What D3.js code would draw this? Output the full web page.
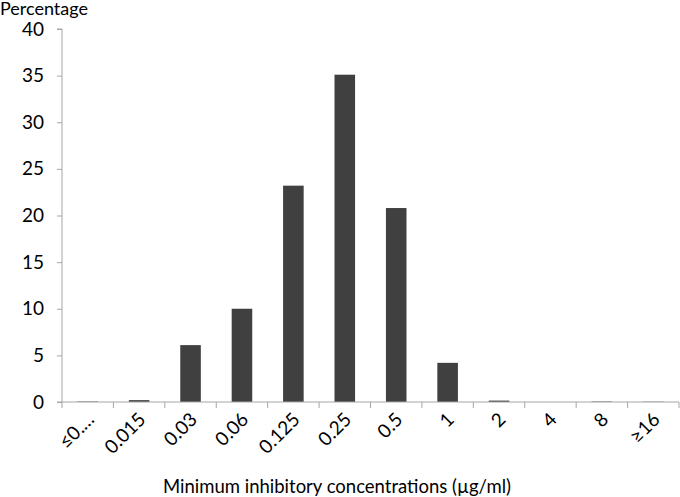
<!DOCTYPE html>
<html lang="en">
<head>
<meta charset="utf-8" />
<title>MIC distribution</title>
<script src="https://cdn.jsdelivr.net/npm/d3@7"></script>
<style>
  body { margin: 0; background: #fff; }
  svg text { font-family: Lato, "Open Sans", sans-serif; fill: #000; }
</style>
</head>
<body>
<div id="chart"></div>
<script>
// categories (MIC, ug/ml) and percentage of isolates
const categories = ["\u22640.\u2026", "0.015", "0.03", "0.06", "0.125", "0.25", "0.5", "1", "2", "4", "8", "\u226516"];
const percentages = [0.05, 0.2, 6.1, 10.0, 23.2, 35.1, 20.8, 4.2, 0.15, 0, 0.05, 0.03];
const yTicks = [0, 5, 10, 15, 20, 25, 30, 35, 40];

const width = 680, height = 497;
const margin = { top: 29, right: 1, bottom: 95, left: 62 };

const svg = d3.select("#chart").append("svg")
  .attr("width", width)
  .attr("height", height);

const x = d3.scaleBand()
  .domain(categories)
  .range([margin.left, width - margin.right])
  .paddingInner(0.6)
  .paddingOuter(0.3);

const y = d3.scaleLinear()
  .domain([0, 40])
  .range([height - margin.bottom, margin.top]);

const axisColor = "#a6a6a6";

// bars
svg.append("g")
  .selectAll("rect")
  .data(percentages)
  .join("rect")
  .attr("x", (d, i) => x(categories[i]))
  .attr("y", d => y(d))
  .attr("width", x.bandwidth())
  .attr("height", d => y(0) - y(d))
  .attr("fill", "#404040");

// y axis
const yAxis = svg.append("g")
  .attr("transform", `translate(${margin.left},0)`)
  .call(d3.axisLeft(y).tickValues(yTicks).tickSize(5).tickPadding(13));
yAxis.selectAll("line, path").attr("stroke", axisColor);
yAxis.select(".domain").attr("d", `M-5,${y(40)}H0V${y(0)}`);
yAxis.selectAll("text").attr("font-size", 19);

// x axis: ticks at band boundaries
const step = x.step();
const boundaries = d3.range(categories.length + 1).map(i => margin.left + i * step);
const xg = svg.append("g");
xg.append("line")
  .attr("x1", margin.left - 5).attr("x2", width - margin.right)
  .attr("y1", y(0)).attr("y2", y(0))
  .attr("stroke", axisColor);
xg.selectAll("line.tick")
  .data(boundaries)
  .join("line")
  .attr("class", "tick")
  .attr("x1", d => d).attr("x2", d => d)
  .attr("y1", y(0)).attr("y2", y(0) + 6)
  .attr("stroke", axisColor);

xg.selectAll("text")
  .data(categories)
  .join("text")
  .attr("transform", d => `translate(${x(d) + x.bandwidth() / 2 + 3},${y(0) + 14}) rotate(-45)`)
  .attr("text-anchor", "end")
  .attr("dy", "0.35em")
  .attr("font-size", 19)
  .text(d => d);

// titles
svg.append("text")
  .attr("x", 0)
  .attr("y", 15)
  .attr("font-size", 18)
  .text("Percentage");

svg.append("text")
  .attr("x", 337)
  .attr("y", 493)
  .attr("text-anchor", "middle")
  .attr("font-size", 18.5)
  .text("Minimum inhibitory concentrations (\u00b5g/ml)");
</script>
</body>
</html>
